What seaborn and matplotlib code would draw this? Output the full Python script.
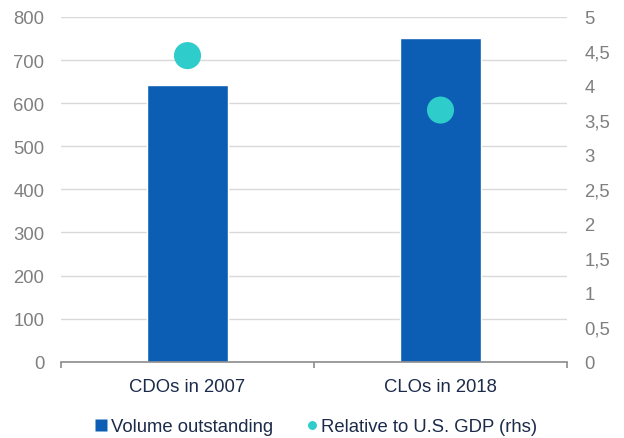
import matplotlib
matplotlib.use("Agg")
import matplotlib.pyplot as plt
import seaborn as sns
import pandas as pd
from matplotlib.lines import Line2D
from matplotlib.ticker import FuncFormatter

categories = ["CDOs in 2007", "CLOs in 2018"]
volume = [643, 752]
rel_gdp = [4.44, 3.65]

bar_color = "#0B5EB4"
dot_color = "#2ECCCB"
grid_color = "#D9D9D9"
tick_grey = "#7F7F7F"
label_dark = "#1C2B4A"

sns.set_theme(style="white")
plt.rcParams['font.family'] = ['Liberation Sans', 'DejaVu Sans']

df = pd.DataFrame({"cat": categories, "vol": volume, "rel": rel_gdp})

W, H = 624, 439
left, right, top, bottom = 61, 567, 18, 362.7
fig = plt.figure(figsize=(W / 100, H / 100), dpi=100)
ax = fig.add_axes([left / W, 1 - bottom / H, (right - left) / W, (bottom - top) / H])

sns.barplot(data=df, x="cat", y="vol", color=bar_color, width=0.32,
            saturation=1, ax=ax, zorder=2)
ax.set_xlim(-0.5, 1.5)
ax.set_ylim(0, 800)
ax.set_yticks(range(0, 801, 100))
ax.yaxis.grid(True, color=grid_color, linewidth=1, zorder=0)
ax.set_axisbelow(True)
ax.set_xlabel("")
ax.set_ylabel("")
for s in ["top", "left", "right"]:
    ax.spines[s].set_visible(False)
ax.spines["bottom"].set_color("#8C8C8C")
ax.spines["bottom"].set_linewidth(1.2)
ax.tick_params(axis="y", colors=tick_grey, labelsize=13.3, length=0, pad=12)
ax.tick_params(axis="x", labelsize=13.3, labelcolor=label_dark, length=0, pad=12)
ax.set_xticks([0, 1])
ax.set_xticks([-0.5, 0.5, 1.5], minor=True)
ax.tick_params(axis="x", which="minor", length=4, color="#8C8C8C", width=1.2, bottom=True)

ax2 = ax.twinx()
sns.scatterplot(data=df, x="cat", y="rel", color=dot_color, s=380,
                edgecolor="none", ax=ax2, zorder=3)
ax2.set_ylim(0, 5)
ax2.set_yticks([0, 0.5, 1, 1.5, 2, 2.5, 3, 3.5, 4, 4.5, 5])
ax2.yaxis.set_major_formatter(FuncFormatter(lambda v, p: (f"{v:g}").replace(".", ",")))
ax2.set_ylabel("")
ax2.set_xlabel("")
for s in ["top", "left", "right", "bottom"]:
    ax2.spines[s].set_visible(False)
ax2.tick_params(axis="y", colors=tick_grey, labelsize=13.3, length=0, pad=12.5)
ax2.set_xlim(-0.5, 1.5)

handles = [
    Line2D([0], [0], marker="s", linestyle="none", markersize=8.25,
           markerfacecolor=bar_color, markeredgecolor="none"),
    Line2D([0], [0], marker="o", linestyle="none", markersize=6.4,
           markerfacecolor=dot_color, markeredgecolor="none"),
]
fig.legend(handles, ["Volume outstanding", "Relative to U.S. GDP (rhs)"],
           loc="center", bbox_to_anchor=(316 / W, 1 - 428 / H), ncol=2, frameon=False,
           fontsize=13.3, labelcolor=label_dark, handletextpad=0.15,
           columnspacing=1.75, handlelength=0.7, borderpad=0, borderaxespad=0)

fig.savefig("out.png", dpi=100)
